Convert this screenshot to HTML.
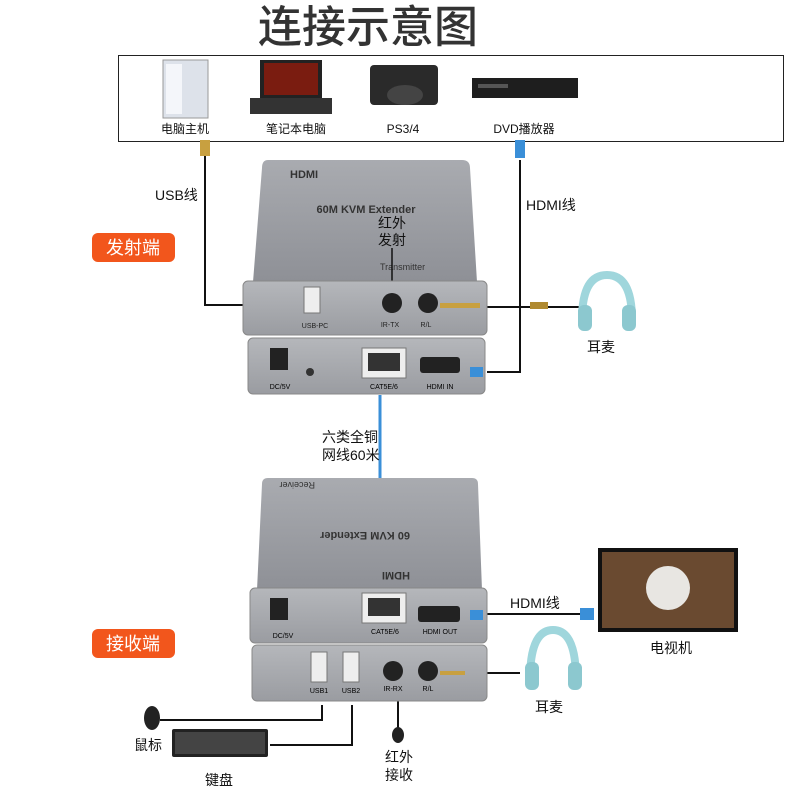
<!DOCTYPE html><html><head><meta charset="utf-8"><style>body{margin:0;background:#fff}svg{display:block}text{font-family:"Liberation Sans","Noto Sans CJK SC",sans-serif}</style></head><body>
<svg width="800" height="800" viewBox="0 0 800 800" xmlns="http://www.w3.org/2000/svg">
<defs>
<linearGradient id="top" x1="0" y1="0" x2="0" y2="1"><stop offset="0" stop-color="#a9abb0"/><stop offset="1" stop-color="#8e9096"/></linearGradient>
<linearGradient id="pan" x1="0" y1="0" x2="0" y2="1"><stop offset="0" stop-color="#b5b7bb"/><stop offset="1" stop-color="#9a9ca1"/></linearGradient>
</defs>
<text x="368" y="42" font-size="44" text-anchor="middle" fill="#333" font-weight="500">连接示意图</text>
<rect x="118.5" y="55.5" width="665" height="86" fill="#fff" stroke="#222"/>
<rect x="163" y="60" width="45" height="58" fill="#dde2ea" stroke="#999"/><rect x="166" y="64" width="16" height="50" fill="#f4f6fa"/>
<rect x="260" y="60" width="62" height="38" fill="#222"/><rect x="264" y="63" width="54" height="32" fill="#7a1c10"/><rect x="250" y="98" width="82" height="16" fill="#333"/>
<rect x="370" y="65" width="68" height="40" fill="#2a2a2a" rx="4"/><ellipse cx="405" cy="95" rx="18" ry="10" fill="#444"/>
<rect x="472" y="78" width="106" height="20" fill="#1e1e1e"/><rect x="478" y="84" width="30" height="4" fill="#555"/>
<g font-size="12" fill="#111" text-anchor="middle"><text x="185" y="133">电脑主机</text><text x="296" y="133">笔记本电脑</text><text x="403" y="133">PS3/4</text><text x="524" y="133">DVD播放器</text></g>
<g stroke="#111" stroke-width="2" fill="none">
<path d="M205 155 V305 H290"/><path d="M520 160 V372 H487"/>
<path d="M485 307 H580"/><path d="M486 614 H585"/><path d="M486 673 H520"/>
<path d="M160 720 H322 V705"/><path d="M270 745 H352 V705"/><path d="M398 700 V730"/>
</g>
<rect x="200" y="140" width="10" height="16" fill="#c8a040"/><rect x="515" y="140" width="10" height="18" fill="#3a8fd8"/>
<path d="M380 395 V595" stroke="#3a8fd8" stroke-width="3"/>
<g font-size="14" fill="#111"><text x="155" y="200">USB线</text><text x="526" y="210">HDMI线</text><text x="322" y="442">六类全铜</text><text x="322" y="460">网线60米</text><text x="510" y="608">HDMI线</text><text x="587" y="352">耳麦</text><text x="535" y="712">耳麦</text><text x="650" y="653">电视机</text><text x="134" y="750">鼠标</text><text x="205" y="785">键盘</text><text x="385" y="762">红外</text><text x="385" y="780">接收</text></g>
<rect x="92" y="233" width="83" height="29" rx="6" fill="#f2561c"/><text x="133" y="254" font-size="18" fill="#fff" text-anchor="middle">发射端</text>
<rect x="92" y="629" width="83" height="29" rx="6" fill="#f2561c"/><text x="133" y="650" font-size="18" fill="#fff" text-anchor="middle">接收端</text>
<path d="M268 160 H462 Q470 160 470 168 L477 282 H253 L262 168 Q262 160 268 160Z" fill="url(#top)"/>
<text x="290" y="178" font-size="11" font-weight="bold" fill="#333">HDMI</text>
<text x="366" y="213" font-size="11" font-weight="bold" fill="#333" text-anchor="middle">60M KVM Extender</text>
<text x="380" y="270" font-size="9" fill="#333">Transmitter</text>
<text x="392" y="228" font-size="14" fill="#111" text-anchor="middle">红外</text><text x="392" y="245" font-size="14" fill="#111" text-anchor="middle">发射</text>
<path d="M392 248 V298" stroke="#111" stroke-width="1.5"/>
<rect x="243" y="281" width="244" height="54" rx="5" fill="url(#pan)" stroke="#888"/>
<rect x="304" y="287" width="16" height="26" fill="#eee" stroke="#777"/><text x="315" y="328" font-size="7" fill="#222" text-anchor="middle">USB-PC</text>
<circle cx="392" cy="303" r="10" fill="#222"/><circle cx="428" cy="303" r="10" fill="#222"/>
<text x="390" y="327" font-size="7" fill="#222" text-anchor="middle">IR-TX</text><text x="426" y="327" font-size="7" fill="#222" text-anchor="middle">R/L</text>
<rect x="440" y="303" width="40" height="5" fill="#c8a040"/><rect x="530" y="302" width="18" height="7" fill="#b08a30"/>
<rect x="248" y="338" width="237" height="56" rx="5" fill="url(#pan)" stroke="#888"/>
<rect x="270" y="348" width="18" height="22" fill="#222"/><text x="280" y="389" font-size="7" text-anchor="middle">DC/5V</text>
<circle cx="310" cy="372" r="4" fill="#333"/>
<rect x="362" y="348" width="44" height="30" fill="#eee" stroke="#777"/><rect x="368" y="353" width="32" height="18" fill="#333"/><text x="384" y="389" font-size="7" text-anchor="middle">CAT5E/6</text>
<rect x="420" y="357" width="40" height="16" rx="3" fill="#222"/><text x="440" y="389" font-size="7" text-anchor="middle">HDMI IN</text>
<rect x="470" y="367" width="13" height="10" fill="#3a8fd8"/>
<path d="M268 478 H472 Q478 478 478 484 L482 590 H257 L262 484 Q262 478 268 478Z" fill="url(#top)"/>
<text x="365" y="540" font-size="11" font-weight="bold" fill="#333" text-anchor="middle" transform="rotate(180 365 536)">60 KVM Extender</text>
<text x="315" y="490" font-size="9" fill="#333" transform="rotate(180 315 486)">Receiver</text>
<text x="380" y="580" font-size="11" font-weight="bold" fill="#333" transform="rotate(180 395 576)">HDMI</text>
<rect x="250" y="588" width="237" height="55" rx="5" fill="url(#pan)" stroke="#888"/>
<rect x="270" y="598" width="18" height="22" fill="#222"/><text x="283" y="638" font-size="7" text-anchor="middle">DC/5V</text>
<rect x="362" y="593" width="44" height="30" fill="#eee" stroke="#777"/><rect x="368" y="598" width="32" height="18" fill="#333"/><text x="385" y="634" font-size="7" text-anchor="middle">CAT5E/6</text>
<rect x="418" y="606" width="42" height="16" rx="3" fill="#222"/><text x="440" y="634" font-size="7" text-anchor="middle">HDMI OUT</text>
<rect x="470" y="610" width="13" height="10" fill="#3a8fd8"/><rect x="580" y="608" width="14" height="12" fill="#3a8fd8"/>
<rect x="252" y="645" width="235" height="56" rx="5" fill="url(#pan)" stroke="#888"/>
<rect x="311" y="652" width="16" height="30" fill="#eee" stroke="#777"/><rect x="343" y="652" width="16" height="30" fill="#eee" stroke="#777"/>
<text x="319" y="693" font-size="7" text-anchor="middle">USB1</text><text x="351" y="693" font-size="7" text-anchor="middle">USB2</text>
<circle cx="393" cy="671" r="10" fill="#222"/><circle cx="428" cy="671" r="10" fill="#222"/>
<text x="393" y="691" font-size="7" text-anchor="middle">IR-RX</text><text x="428" y="691" font-size="7" text-anchor="middle">R/L</text>
<rect x="440" y="671" width="25" height="4" fill="#c8a040"/>
<ellipse cx="398" cy="735" rx="6" ry="8" fill="#222"/>
<path d="M582 320 Q582 275 607 275 Q632 275 632 320" stroke="#9fd6dc" stroke-width="8" fill="none"/><rect x="578" y="305" width="14" height="26" rx="6" fill="#8cc8cf"/><rect x="622" y="305" width="14" height="26" rx="6" fill="#8cc8cf"/>
<path d="M530 680 Q530 630 553 630 Q576 630 576 680" stroke="#9fd6dc" stroke-width="8" fill="none"/><rect x="525" y="662" width="14" height="28" rx="6" fill="#8cc8cf"/><rect x="568" y="662" width="14" height="28" rx="6" fill="#8cc8cf"/>
<rect x="598" y="548" width="140" height="84" fill="#111"/><rect x="602" y="552" width="132" height="76" fill="#6a4a30"/><circle cx="668" cy="588" r="22" fill="#e8e6e2"/>
<ellipse cx="152" cy="718" rx="8" ry="12" fill="#222"/>
<rect x="172" y="729" width="96" height="28" rx="2" fill="#222"/><rect x="175" y="732" width="90" height="22" fill="#444"/>
</svg></body></html>
